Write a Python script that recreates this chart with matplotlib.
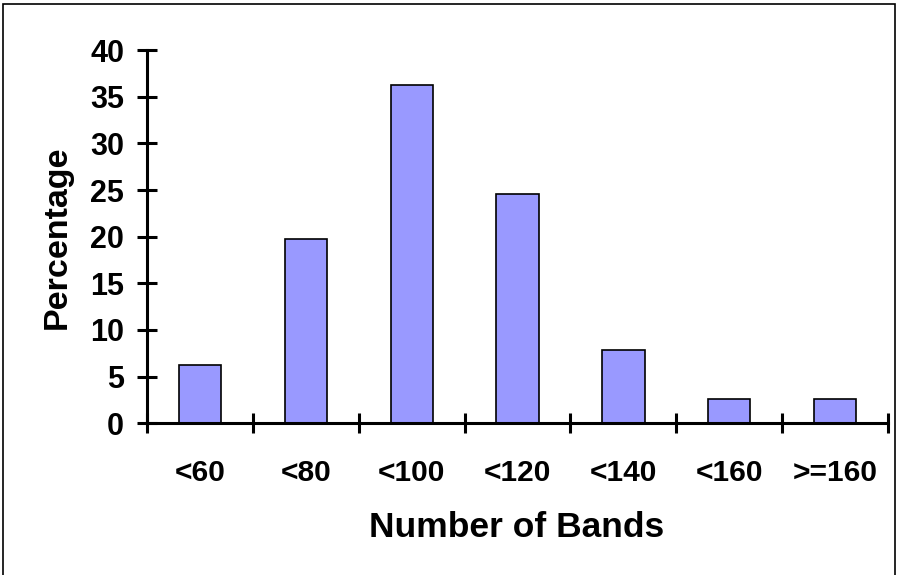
import matplotlib.pyplot as plt
from matplotlib.patches import Rectangle
import numpy as np

categories = ['<60', '<80', '<100', '<120', '<140', '<160', '>=160']
percentages = [6.3, 19.7, 36.2, 24.6, 7.9, 2.6, 2.6]
y_ticks = [0, 5, 10, 15, 20, 25, 30, 35, 40]

plt.rcParams['font.family'] = ['Liberation Sans', 'DejaVu Sans']
plt.rcParams['font.weight'] = 'bold'

fig = plt.figure(figsize=(8.98, 5.75), dpi=100)
ax = fig.add_axes([0.1637, 0.2638, 0.8253, 0.6492])

x = np.arange(len(categories))
ax.bar(x, percentages, width=0.4, color='#9999FF', edgecolor='black', linewidth=1.2, zorder=2)

ax.set_xlim(-0.5, len(categories) - 0.5)
ax.set_ylim(0, 40)
ax.set_yticks(y_ticks)
ax.set_yticklabels([str(v) for v in y_ticks], fontsize=22, fontweight='bold')

# major ticks on the category boundaries, labels on minor ticks at centres
ax.set_xticks(np.arange(len(categories) + 1) - 0.5)
ax.set_xticklabels([])
ax.set_xticks(x, minor=True)
ax.set_xticklabels(categories, minor=True, fontsize=21.5, fontweight='bold')

ax.tick_params(axis='y', direction='inout', length=15, width=2.2, pad=9)
ax.tick_params(axis='x', which='major', direction='inout', length=15, width=2.2)
ax.tick_params(axis='x', which='minor', length=0, pad=26)

for side in ['top', 'right']:
    ax.spines[side].set_visible(False)
for side in ['left', 'bottom']:
    ax.spines[side].set_linewidth(2.2)
    ax.spines[side].set_zorder(3)

fig.text(0.064, 0.588, 'Percentage', rotation=90, ha='center', va='center',
         fontsize=24.5, fontweight='bold')
fig.text(0.575, 0.083, 'Number of Bands', ha='center', va='center',
         fontsize=25.5, fontweight='bold')

# outer frame like the Excel chart area
fig.patches.append(Rectangle((0.003, -0.01), 0.994, 1.003, transform=fig.transFigure,
                             fill=False, edgecolor='black', linewidth=1.2))

fig.savefig('out.png', dpi=100)
